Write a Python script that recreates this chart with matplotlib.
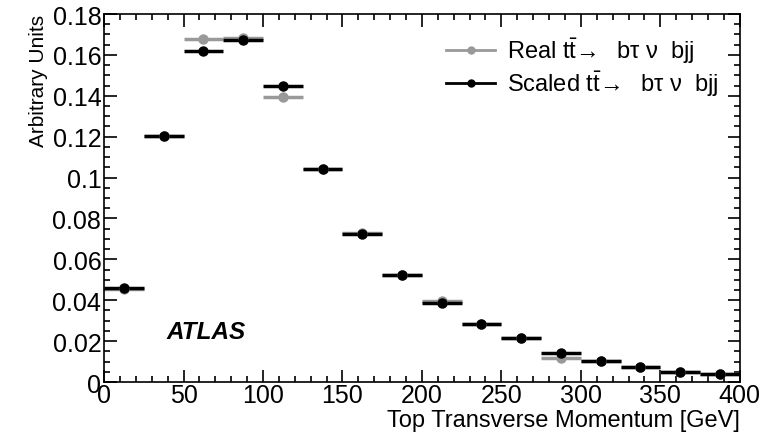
import numpy as np
import matplotlib.pyplot as plt
from matplotlib.lines import Line2D
from matplotlib.ticker import MultipleLocator

plt.rcParams['font.family'] = ['Liberation Sans', 'DejaVu Sans']
plt.rcParams['mathtext.fontset'] = 'custom'
plt.rcParams['mathtext.rm'] = 'Liberation Sans'
plt.rcParams['mathtext.it'] = 'Liberation Sans:italic'

# top pT bins, 25 GeV wide
bin_lo = np.arange(0, 400, 25)
bin_width = 25
real = [0.0455, 0.1205, 0.1678, 0.1685, 0.1392, 0.1040, 0.0730, 0.0525,
        0.0395, 0.0284, 0.0214, 0.0117, 0.0103, 0.0073, 0.0050, 0.0039]
scaled = [0.0458, 0.1203, 0.1620, 0.1675, 0.1446, 0.1040, 0.0722, 0.0523,
          0.0385, 0.0284, 0.0214, 0.0143, 0.0103, 0.0073, 0.0050, 0.0039]

labels = [r'Real t$\bar{\mathrm{t}}\!\rightarrow$  bτ ν  bjj',
          r'Scaled t$\bar{\mathrm{t}}\!\rightarrow$  bτ ν  bjj']
colors = ['#999999', 'black']

centers = bin_lo + bin_width / 2

fig = plt.figure(figsize=(7.65, 4.35), dpi=100)
ax = fig.add_axes([0.136, 0.1195, 0.831, 0.846])

for vals, c in zip([real, scaled], colors):
    ax.errorbar(centers, vals, xerr=bin_width / 2, fmt='o', color=c,
                ms=6.5, elinewidth=2.5, capsize=0)

ax.set_xlim(0, 400)
ax.set_ylim(0, 0.18)
ax.xaxis.set_major_locator(MultipleLocator(50))
ax.xaxis.set_minor_locator(MultipleLocator(10))
ax.yaxis.set_major_locator(MultipleLocator(0.02))
ax.yaxis.set_minor_locator(MultipleLocator(0.005))
ax.yaxis.set_major_formatter(plt.FuncFormatter(lambda v, p: '%g' % round(v, 3)))

ax.tick_params(which='both', direction='in', top=True, right=True,
               labelsize=18, width=1.2)
ax.tick_params(which='major', length=9)
ax.tick_params(which='minor', length=4.5)
ax.tick_params(axis='x', pad=1)
ax.tick_params(axis='y', pad=2)
for s in ax.spines.values():
    s.set_linewidth(1.2)

ax.set_xlabel('Top Transverse Momentum [GeV]', loc='right', fontsize=17,
              labelpad=1)
ax.set_ylabel('Arbitrary Units', loc='top', fontsize=15, labelpad=3)

ax.text(0.0975, 0.136, 'ATLAS', transform=ax.transAxes, fontsize=17.5,
        fontweight='bold', fontstyle='italic', va='center')

handles = [Line2D([], [], color=c, lw=2, marker='o', ms=5) for c in colors]
ax.legend(handles, labels, loc='upper right', bbox_to_anchor=(1.0, 1.0),
          frameon=False, fontsize=17, handlelength=2.1, handletextpad=0.5,
          labelspacing=0.15)

fig.savefig('out.png', dpi=100)
